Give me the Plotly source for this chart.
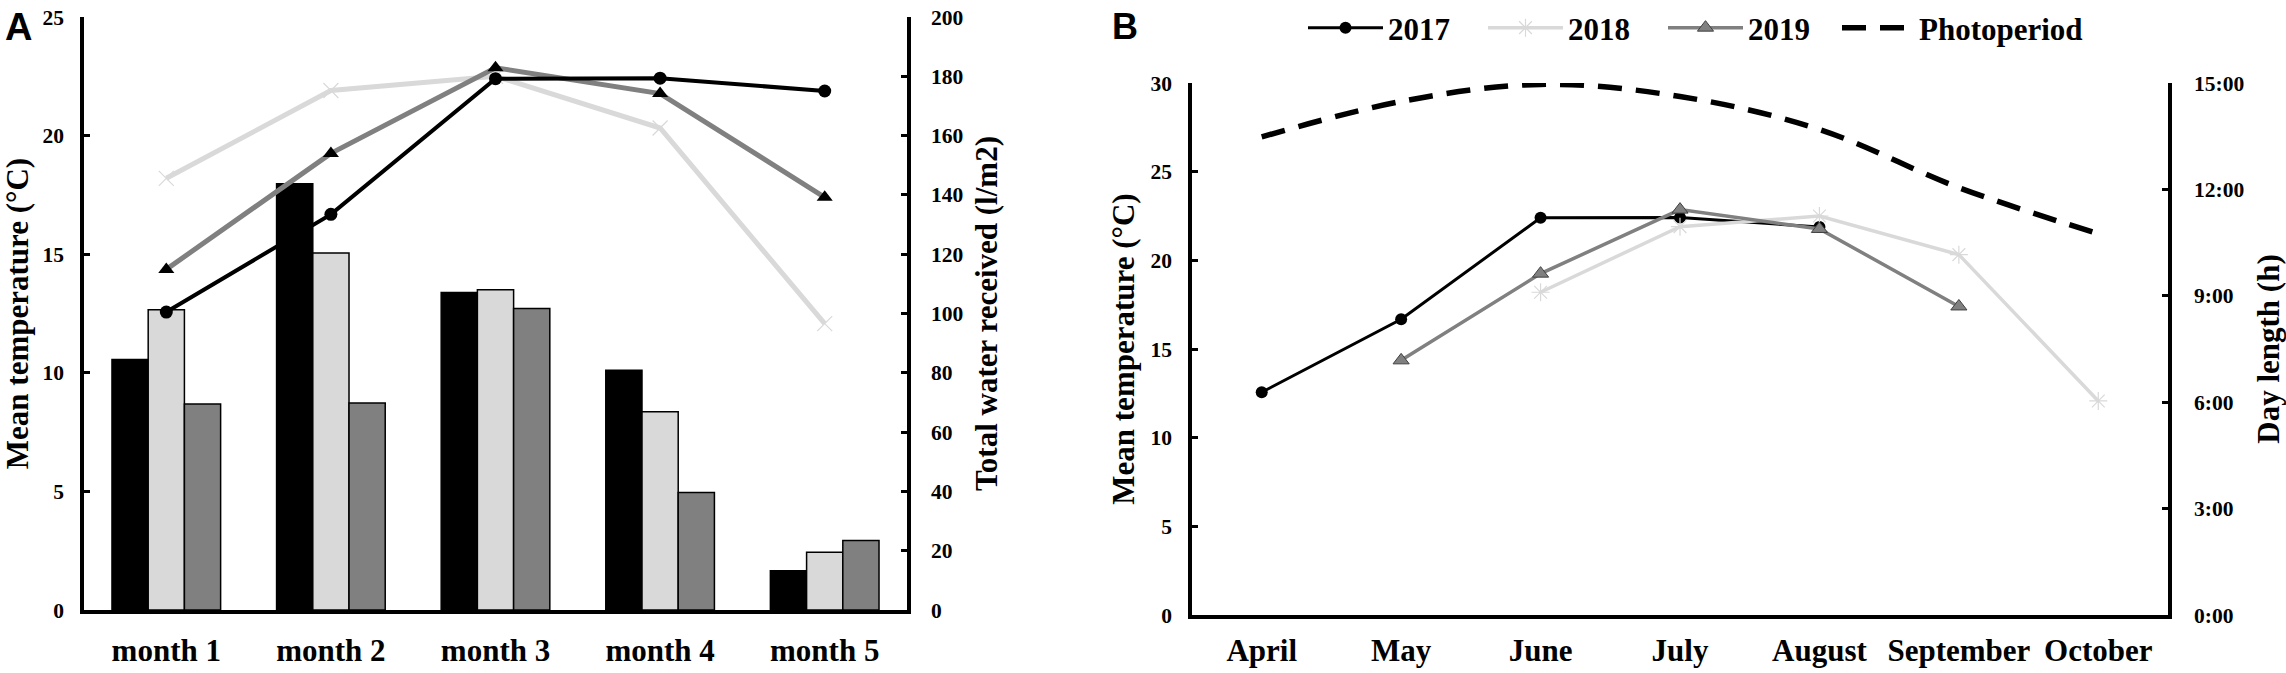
import plotly.graph_objects as go

# ---------------- data ----------------
months_a = ["month 1", "month 2", "month 3", "month 4", "month 5"]
months_b = ["April", "May", "June", "July", "August", "September", "October"]

water_2017 = [84.5, 143.8, 107.1, 80.9, 13.2]
water_2018 = [101.3, 120.4, 108.0, 66.9, 19.5]
water_2019 = [69.5, 69.8, 101.7, 39.6, 23.4]

temp_2017 = [12.56, 16.68, 22.40, 22.42, 21.88]
temp_2018 = [18.20, 21.90, 22.50, 20.32, 12.07]
temp_2019 = [14.36, 19.25, 22.86, 21.77, 17.40]

# months covered by each year's series in panel B
months_2017 = ["April", "May", "June", "July", "August"]
months_2018 = ["June", "July", "August", "September", "October"]
months_2019 = ["May", "June", "July", "August", "September"]

photoperiod_h = [13.48, 14.48, 14.96, 14.62, 13.69, 12.05, 10.75]

temp_ticks_a = [0, 5, 10, 15, 20, 25]
water_ticks = [0, 20, 40, 60, 80, 100, 120, 140, 160, 180, 200]
temp_ticks_b = [0, 5, 10, 15, 20, 25, 30]
day_ticks = [0, 3, 6, 9, 12, 15]
day_labels = ["0:00", "3:00", "6:00", "9:00", "12:00", "15:00"]

# ---------------- style ----------------
W, H = 2286, 673
SERIF = "Liberation Serif"
C17, C18, C19 = "#000000", "#d9d9d9", "#808080"

def px_x(p):
    return p / W

def px_y(p):  # p measured from top
    return 1 - p / H

ax_dom_x = [px_x(84), px_x(907)]
ax_dom_y = [px_y(610), px_y(17)]
bx_dom_x = [px_x(1192), px_x(2168)]
bx_dom_y = [px_y(615), px_y(83)]

tickfont = dict(family=SERIF, size=21.5, color="black", weight="bold")
titlefont = dict(family=SERIF, size=31, color="black", weight="bold")
catfont = dict(family=SERIF, size=31, color="black", weight="bold")
legfont = dict(family=SERIF, size=31, color="black", weight="bold")

fig = go.Figure()

# ---- Panel A: bars (water) on base axis y (right side) ----
for vals, col in [(water_2017, C17), (water_2018, C18), (water_2019, C19)]:
    fig.add_trace(go.Bar(x=months_a, y=vals, xaxis="x", yaxis="y",
                         marker=dict(color=col, line=dict(color="black", width=1.5)),
                         showlegend=False))

# ---- Panel A: temperature lines on y2 (left side, overlaying) ----
fig.add_trace(go.Scatter(x=months_a, y=temp_2018, xaxis="x", yaxis="y2", mode="lines+markers",
                         line=dict(color=C18, width=5),
                         marker=dict(symbol="x-thin-open", size=15, line=dict(color="#303030", width=1.2)),
                         showlegend=False))
fig.add_trace(go.Scatter(x=months_a, y=temp_2019, xaxis="x", yaxis="y2", mode="lines+markers",
                         line=dict(color=C19, width=5),
                         marker=dict(symbol="triangle-up", size=14, color="black"),
                         showlegend=False))
fig.add_trace(go.Scatter(x=months_a, y=temp_2017, xaxis="x", yaxis="y2", mode="lines+markers",
                         line=dict(color=C17, width=4),
                         marker=dict(symbol="circle", size=13, color="black"),
                         showlegend=False))

# ---- Panel B ----
fig.add_trace(go.Scatter(x=months_2017, y=temp_2017, xaxis="x2", yaxis="y3", mode="lines+markers",
                         name="2017", legend="legend", line=dict(color=C17, width=3),
                         marker=dict(symbol="circle", size=12, color="black")))
fig.add_trace(go.Scatter(x=months_2018, y=temp_2018, xaxis="x2", yaxis="y3", mode="lines+markers",
                         name="2018", legend="legend", line=dict(color=C18, width=3.5),
                         marker=dict(symbol="asterisk-open", size=15, line=dict(color="#404040", width=1.2))))
fig.add_trace(go.Scatter(x=months_2019, y=temp_2019, xaxis="x2", yaxis="y3", mode="lines+markers",
                         name="2019", legend="legend", line=dict(color=C19, width=3.5),
                         marker=dict(symbol="triangle-up", size=14, color=C19, line=dict(color="#404040", width=1))))
fig.add_trace(go.Scatter(x=months_b, y=photoperiod_h, xaxis="x2", yaxis="y4", mode="lines",
                         name="Photoperiod", legend="legend2",
                         line=dict(color="black", width=5.5, dash="24px,14px", shape="spline")))

axis_common = dict(showline=True, linecolor="black", linewidth=3.5, showgrid=False, zeroline=False,
                   ticks="inside", ticklen=6, tickwidth=2.5, tickcolor="black", tickfont=tickfont,
                   automargin=False)

fig.update_layout(
    width=W, height=H, margin=dict(l=0, r=0, t=0, b=0, autoexpand=False),
    paper_bgcolor="white", plot_bgcolor="rgba(0,0,0,0)",
    barmode="group", bargap=0.34, bargroupgap=0,
    xaxis=dict(domain=ax_dom_x, anchor="y", type="category", range=[-0.5, 4.5],
               showline=True, linecolor="black", linewidth=3.5, showgrid=False, zeroline=False,
               ticks="", tickfont=catfont, ticklabelstandoff=10, automargin=False),
    yaxis=dict(domain=ax_dom_y, anchor="x", side="right", range=[0, 200], tickvals=water_ticks,
               ticklabelstandoff=16,
               title=dict(text="Total water received (l/m2)", font=titlefont, standoff=14),
               **axis_common),
    yaxis2=dict(overlaying="y", anchor="x", side="left", range=[0, 25], tickvals=temp_ticks_a,
                ticklabelstandoff=12,
                title=dict(text="Mean temperature (°C)", font=titlefont, standoff=18),
                **axis_common),
    xaxis2=dict(domain=bx_dom_x, anchor="y3", type="category", range=[-0.5, 6.5],
                categoryorder="array", categoryarray=months_b,
                showline=True, linecolor="black", linewidth=3.5, showgrid=False, zeroline=False,
                ticks="", tickfont=catfont, ticklabelstandoff=5, automargin=False),
    yaxis3=dict(domain=bx_dom_y, anchor="x2", side="left", range=[0, 30], tickvals=temp_ticks_b,
                ticklabelstandoff=12,
                title=dict(text="Mean temperature (°C)", font=titlefont, standoff=8),
                **axis_common),
    yaxis4=dict(overlaying="y3", anchor="x2", side="right", range=[0, 15], tickvals=day_ticks,
                ticktext=day_labels, ticklabelstandoff=18,
                title=dict(text="Day length (h)", font=titlefont, standoff=15),
                **axis_common),
    legend=dict(orientation="h", x=px_x(1303), xanchor="left", y=px_y(28), yanchor="middle",
                font=legfont, bgcolor="rgba(0,0,0,0)", entrywidth=90, entrywidthmode="pixels",
                itemwidth=75),
    legend2=dict(orientation="h", x=px_x(1837), xanchor="left", y=px_y(28), yanchor="middle",
                 font=legfont, bgcolor="rgba(0,0,0,0)", itemwidth=72),
    annotations=[
        dict(text="A", x=px_x(3), y=px_y(4), xref="paper", yref="paper", xanchor="left", yanchor="top",
             showarrow=False, font=dict(family="Liberation Sans", size=38, color="black", weight="bold")),
        dict(text="B", x=px_x(1110), y=px_y(4), xref="paper", yref="paper", xanchor="left", yanchor="top",
             showarrow=False, font=dict(family="Liberation Sans", size=36, color="black", weight="bold")),
    ],
)

fig.write_html("out.html", config={"displayModeBar": False},
               post_script="document.body.style.margin='0';")
